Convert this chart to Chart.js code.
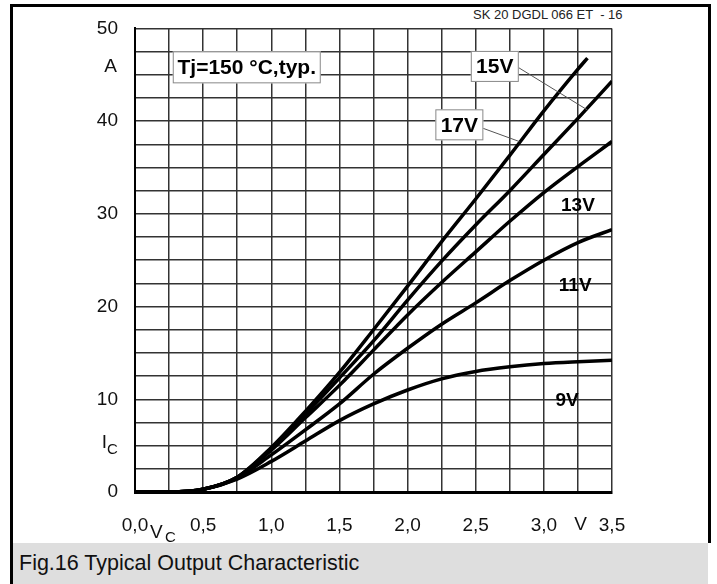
<!DOCTYPE html>
<html>
<head>
<meta charset="utf-8">
<script src="https://cdn.jsdelivr.net/npm/chart.js@4"></script>
<style>
    body { margin: 0; background: #fff; font-family: "Liberation Sans", Arial, sans-serif; }
    #frame {
        position: absolute; left: 10px; top: 4px; width: 695px; height: 536px;
        border: 3px solid #000; border-bottom: none;
    }
    #caption {
        position: absolute; left: 10px; top: 543px; width: 689px; height: 41px;
        border-left: 3px solid #000; background: #dedede;
        padding-left: 6px; font-size: 21.5px; line-height: 41px; color: #111;
    }
    #header {
        position: absolute; left: 473px; top: 7px; font-size: 13px; color: #222;
        white-space: pre;
    }
    #chart { position: absolute; left: 0; top: 0; }
</style>
</head>
<body>
<div id="frame"></div>
<div id="caption">Fig.16 Typical Output Characteristic</div>
<div id="header">SK 20 DGDL 066 ET  - 16</div>
<canvas id="chart" width="717" height="584"></canvas>
<script>
// collector-emitter voltage (V) and collector current (A) per gate voltage
var vce = [0, 0.25, 0.5, 0.75, 1.0, 1.25, 1.5, 1.75, 2.0, 2.25, 2.5, 2.75, 3.0, 3.25, 3.5];
var vce17 = [0, 0.25, 0.5, 0.75, 1.0, 1.25, 1.5, 1.75, 2.0, 2.25, 2.5, 2.75, 3.0, 3.25, 3.32];
var ic17 = [0, 0, 0.3, 1.6, 4.8, 8.7, 12.9, 17.5, 22.2, 27.0, 31.6, 36.3, 41.1, 45.6, 46.8];
var ic15 = [0, 0, 0.3, 1.6, 4.7, 8.4, 12.3, 16.3, 20.7, 24.9, 28.8, 32.5, 36.4, 40.3, 44.3];
var ic13 = [0, 0, 0.3, 1.6, 4.5, 8.0, 11.5, 15.3, 19.1, 22.6, 25.9, 29.2, 32.3, 35.1, 37.8];
var ic11 = [0, 0, 0.3, 1.5, 4.0, 6.7, 9.5, 12.7, 15.5, 18.1, 20.4, 22.8, 25.0, 26.9, 28.3];
var ic9 = [0, 0, 0.3, 1.4, 3.3, 5.5, 7.7, 9.5, 11.0, 12.2, 13.0, 13.5, 13.85, 14.05, 14.2];
var curveNames = ['17V', '15V', '13V', '11V', '9V'];

var FONT = '"Liberation Sans", Arial, sans-serif';

function pts(xs, ys) {
    return xs.map((x, i) => ({ x: x, y: ys[i] }));
}

function curve(label, data) {
    return {
        label: label,
        data: data,
        borderColor: '#000',
        borderWidth: 3.5,
        pointRadius: 0,
        fill: false,
        cubicInterpolationMode: 'monotone'
    };
}

// extra texts: unit labels, curve labels, boxes
var overlay = {
    id: 'overlay',
    afterDatasetsDraw(chart) {
        var ctx = chart.ctx;
        var sx = chart.scales.x, sy = chart.scales.y;
        var px = v => sx.getPixelForValue(v);
        var py = v => sy.getPixelForValue(v);
        ctx.save();

        // leader lines
        ctx.strokeStyle = '#555';
        ctx.lineWidth = 1;
        ctx.beginPath();
        ctx.moveTo(px(2.80), py(45.9));
        ctx.lineTo(px(3.32), py(41.2));
        ctx.moveTo(px(2.54), py(39.3));
        ctx.lineTo(px(2.82), py(37.8));
        ctx.stroke();

        function box(text, v, i, w, h) {
            var cx = px(v), cy = py(i);
            ctx.fillStyle = '#fff';
            ctx.fillRect(cx - w / 2, cy - h / 2, w, h);
            ctx.strokeStyle = '#888';
            ctx.lineWidth = 1;
            ctx.strokeRect(cx - w / 2 + 0.5, cy - h / 2 + 0.5, w - 1, h - 1);
            ctx.fillStyle = '#000';
            ctx.font = 'bold 21px ' + FONT;
            ctx.textAlign = 'center';
            ctx.textBaseline = 'middle';
            ctx.fillText(text, cx, cy + 1);
        }
        box('Tj=150 °C,typ.', 0.82, 45.8, 148, 32);
        box(curveNames[1], 2.64, 45.9, 48, 31);
        box(curveNames[0], 2.38, 39.6, 48, 31);

        ctx.font = 'bold 19px ' + FONT;
        ctx.fillStyle = '#000';
        ctx.textAlign = 'center';
        ctx.textBaseline = 'middle';
        ctx.fillText(curveNames[2], px(3.25), py(30.9));
        ctx.fillText(curveNames[3], px(3.23), py(22.2));
        ctx.fillText(curveNames[4], px(3.17), py(9.85));

        // axis units
        ctx.font = '19px ' + FONT;
        ctx.fillStyle = '#111';
        ctx.textAlign = 'right';
        ctx.fillText('A', sx.left - 18, py(45.9));
        ctx.fillText('I', sx.left - 28, py(5.3));
        ctx.font = '15px ' + FONT;
        ctx.textAlign = 'left';
        ctx.fillText('C', sx.left - 28, py(4.5));

        ctx.font = '19px ' + FONT;
        ctx.textAlign = 'center';
        ctx.fillText('V', px(3.27), sy.bottom + 33);
        ctx.textAlign = 'left';
        ctx.fillText('V', px(0.11), sy.bottom + 41);
        ctx.font = '15px ' + FONT;
        ctx.fillText('C', px(0.22), sy.bottom + 46);
        ctx.restore();
    }
};

var ctx = document.getElementById('chart');
var myChart = new Chart(ctx, {
    type: 'line',
    data: {
        datasets: [
            curve(curveNames[0], pts(vce17, ic17)),
            curve(curveNames[1], pts(vce, ic15)),
            curve(curveNames[2], pts(vce, ic13)),
            curve(curveNames[3], pts(vce, ic11)),
            curve(curveNames[4], pts(vce, ic9))
        ]
    },
    plugins: [overlay],
    options: {
        responsive: false,
        animation: false,
        devicePixelRatio: 1,
        layout: { padding: { left: 0, top: 25, right: 105, bottom: 0 } },
        plugins: {
            legend: { display: false },
            tooltip: { enabled: false }
        },
        scales: {
            x: {
                type: 'linear',
                min: 0,
                max: 3.5,
                grid: { color: '#333', lineWidth: 1.5, drawTicks: false },
                border: { color: '#000', width: 3 },
                ticks: {
                    stepSize: 0.25,
                    autoSkip: false,
                    maxRotation: 0,
                    padding: 22,
                    color: '#111',
                    font: { family: FONT, size: 19 },
                    callback: function (v) {
                        if (Math.abs(v * 2 - Math.round(v * 2)) > 1e-6) return '';
                        return v.toFixed(1).replace('.', ',');
                    }
                },
                afterFit: function (s) { s.height = 92; }
            },
            y: {
                min: 0,
                max: 50,
                grid: { color: '#333', lineWidth: 1.5, drawTicks: false },
                border: { color: '#000', width: 2 },
                ticks: {
                    stepSize: 2.5,
                    autoSkip: false,
                    padding: 17,
                    color: '#111',
                    font: { family: FONT, size: 19 },
                    callback: function (v) {
                        return v % 10 === 0 ? String(v) : '';
                    }
                },
                afterFit: function (s) { s.width = 135; }
            }
        }
    }
});
</script>
</body>
</html>
